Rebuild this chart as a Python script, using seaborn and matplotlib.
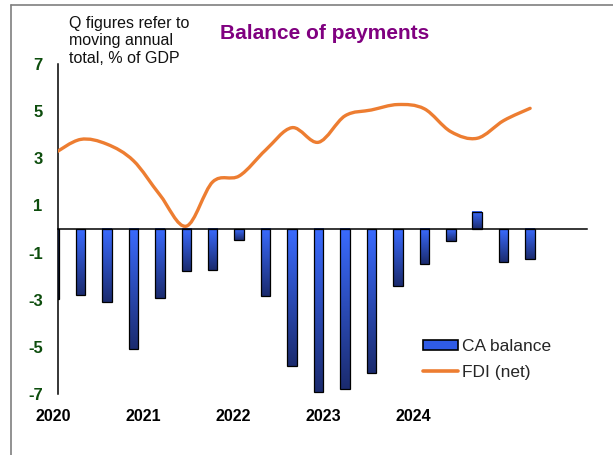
import numpy as np
import pandas as pd
import seaborn as sns
import matplotlib
matplotlib.use("Agg")
import matplotlib.pyplot as plt
from matplotlib.path import Path
from matplotlib.patches import PathPatch, Patch
from matplotlib.lines import Line2D
from matplotlib.colors import to_rgb

# Quarterly data, moving annual totals in % of GDP
quarters = [
    "2020 Q1", "2020 Q2", "2020 Q3", "2020 Q4",
    "2021 Q1", "2021 Q2", "2021 Q3", "2021 Q4",
    "2022 Q1", "2022 Q2", "2022 Q3", "2022 Q4",
    "2023 Q1", "2023 Q2", "2023 Q3", "2023 Q4",
    "2024 Q1", "2024 Q2", "2024 Q3",
]
ca_balance = [-2.95, -2.8, -3.1, -5.1, -2.93, -1.8, -1.75, -0.45, -2.85, -5.8,
              -6.93, -6.8, -6.1, -2.4, -1.5, -0.5, 0.73, -1.38, -1.28]
fdi_net = [3.2, 3.8, 3.6, 2.9, 1.45, 0.12, 2.0, 2.25, 3.35, 4.3,
           3.68, 4.8, 5.05, 5.28, 5.1, 4.13, 3.85, 4.6, 5.12]
year_labels = ["2020", "2021", "2022", "2023", "2024"]
y_ticks = [-7, -5, -3, -1, 1, 3, 5, 7]

sns.set_style("white")
plt.rcParams["font.family"] = ["Liberation Sans", "DejaVu Sans"]

W, H = 613, 455
X_MIN, X_MAX = 0.15, 20.15
fig = plt.figure(figsize=(W / 100, H / 100), dpi=100)
ax = fig.add_axes([58 / W, 1 - 394 / H, 529 / W, 330 / H])

df = pd.DataFrame({"quarter": quarters, "ca": ca_balance})
sns.barplot(data=df, x="quarter", y="ca", order=quarters, width=0.36,
            color="#2F5BE6", edgecolor="black", linewidth=0.9,
            ax=ax, zorder=3)

# vertical blue gradient inside each bar (kept within the plotting range)
top_c = np.array(to_rgb("#3A6BFF"))
bot_c = np.array(to_rgb("#1B2B6E"))
ramp = np.linspace(0, 1, 256)[:, None, None]
grad_img = top_c + (bot_c - top_c) * ramp
for bar in list(ax.patches):
    x0, y0 = bar.get_x(), bar.get_y()
    w, h = bar.get_width(), bar.get_height()
    ylo, yhi = min(y0, y0 + h), max(y0, y0 + h)
    xa, xb = max(x0, X_MIN), min(x0 + w, X_MAX)
    ax.imshow(grad_img, extent=[xa, xb, ylo, yhi], origin="upper",
              aspect="auto", zorder=2.5, interpolation="bilinear")
    bar.set_facecolor("none")

# smoothed FDI line (cubic Bezier through each quarterly point)
pts = np.column_stack([np.arange(len(fdi_net)), fdi_net]).astype(float)
n = len(pts)
verts = [pts[0]]
codes = [Path.MOVETO]
for i in range(n - 1):
    pm = pts[i - 1] if i > 0 else pts[i]
    p2 = pts[i + 2] if i + 2 < n else pts[i + 1]
    c1 = pts[i] + (pts[i + 1] - pm) / 6
    c2 = pts[i + 1] - (p2 - pts[i]) / 6
    verts += [c1, c2, pts[i + 1]]
    codes += [Path.CURVE4] * 3
ax.add_patch(PathPatch(Path(verts, codes), fill=False, edgecolor="#ED7D31",
                       lw=2.4, zorder=4, capstyle="round"))

ax.set_xlim(X_MIN, X_MAX)
ax.set_ylim(-7, 7)
ax.set_xlabel("")
ax.set_ylabel("")

# axes: zero line with year tick marks, left value axis
ax.spines["top"].set_visible(False)
ax.spines["right"].set_visible(False)
ax.spines["bottom"].set_position(("data", 0))
for s in ("bottom", "left"):
    ax.spines[s].set_color("black")
    ax.spines[s].set_linewidth(1.1)
ax.spines["bottom"].set_zorder(3.5)

ax.set_xticks(np.arange(X_MIN, X_MAX + 0.05, 4))
ax.set_xticklabels([])
ax.tick_params(axis="x", direction="in", length=5, width=1, colors="black")

ax.set_yticks(y_ticks)
ax.set_yticklabels([str(v) for v in y_ticks], fontsize=12, fontweight="bold",
                   color="#0D4D0D")
ax.tick_params(axis="y", direction="out", length=5, width=1, pad=6,
               colors="black", labelcolor="#0D4D0D")

year_pos = np.arange(len(year_labels)) * 3.405 - 0.04
for xp, lab in zip(year_pos, year_labels):
    ax.text(xp, -0.067, lab, transform=ax.get_xaxis_transform(),
            ha="center", va="center", fontsize=11.5, fontweight="bold",
            color="black", clip_on=False)

# titles and notes
fig.text(324.5 / W, 1 - 39 / H, "Balance of payments", ha="center",
         va="baseline", fontsize=15, fontweight="bold", color="#800080")
fig.text(69 / W, 1 - 16 / H, "Q figures refer to\nmoving annual\ntotal, % of GDP",
         ha="left", va="top", fontsize=11.5, color="#111111", linespacing=1.2)

handles = [
    Patch(facecolor="#2F5BE6", edgecolor="black", linewidth=1.2),
    Line2D([], [], color="#ED7D31", lw=2.6),
]
ax.legend(handles, ["CA balance", "FDI (net)"], loc="upper left",
          bbox_to_anchor=(0.690, 0.166), borderaxespad=0, borderpad=0,
          frameon=False, fontsize=12.5, handlelength=2.0, handleheight=0.5,
          handletextpad=0.25, labelspacing=0.6)

# outer frame lines
frame_kw = dict(transform=fig.transFigure, color="#7F7F7F", lw=1.2)
fig.add_artist(Line2D([11 / W, 1], [1 - 5 / H, 1 - 5 / H], **frame_kw))
fig.add_artist(Line2D([11 / W, 11 / W], [0, 1 - 5 / H], **frame_kw))

fig.savefig("out.png", dpi=100, facecolor="white")
